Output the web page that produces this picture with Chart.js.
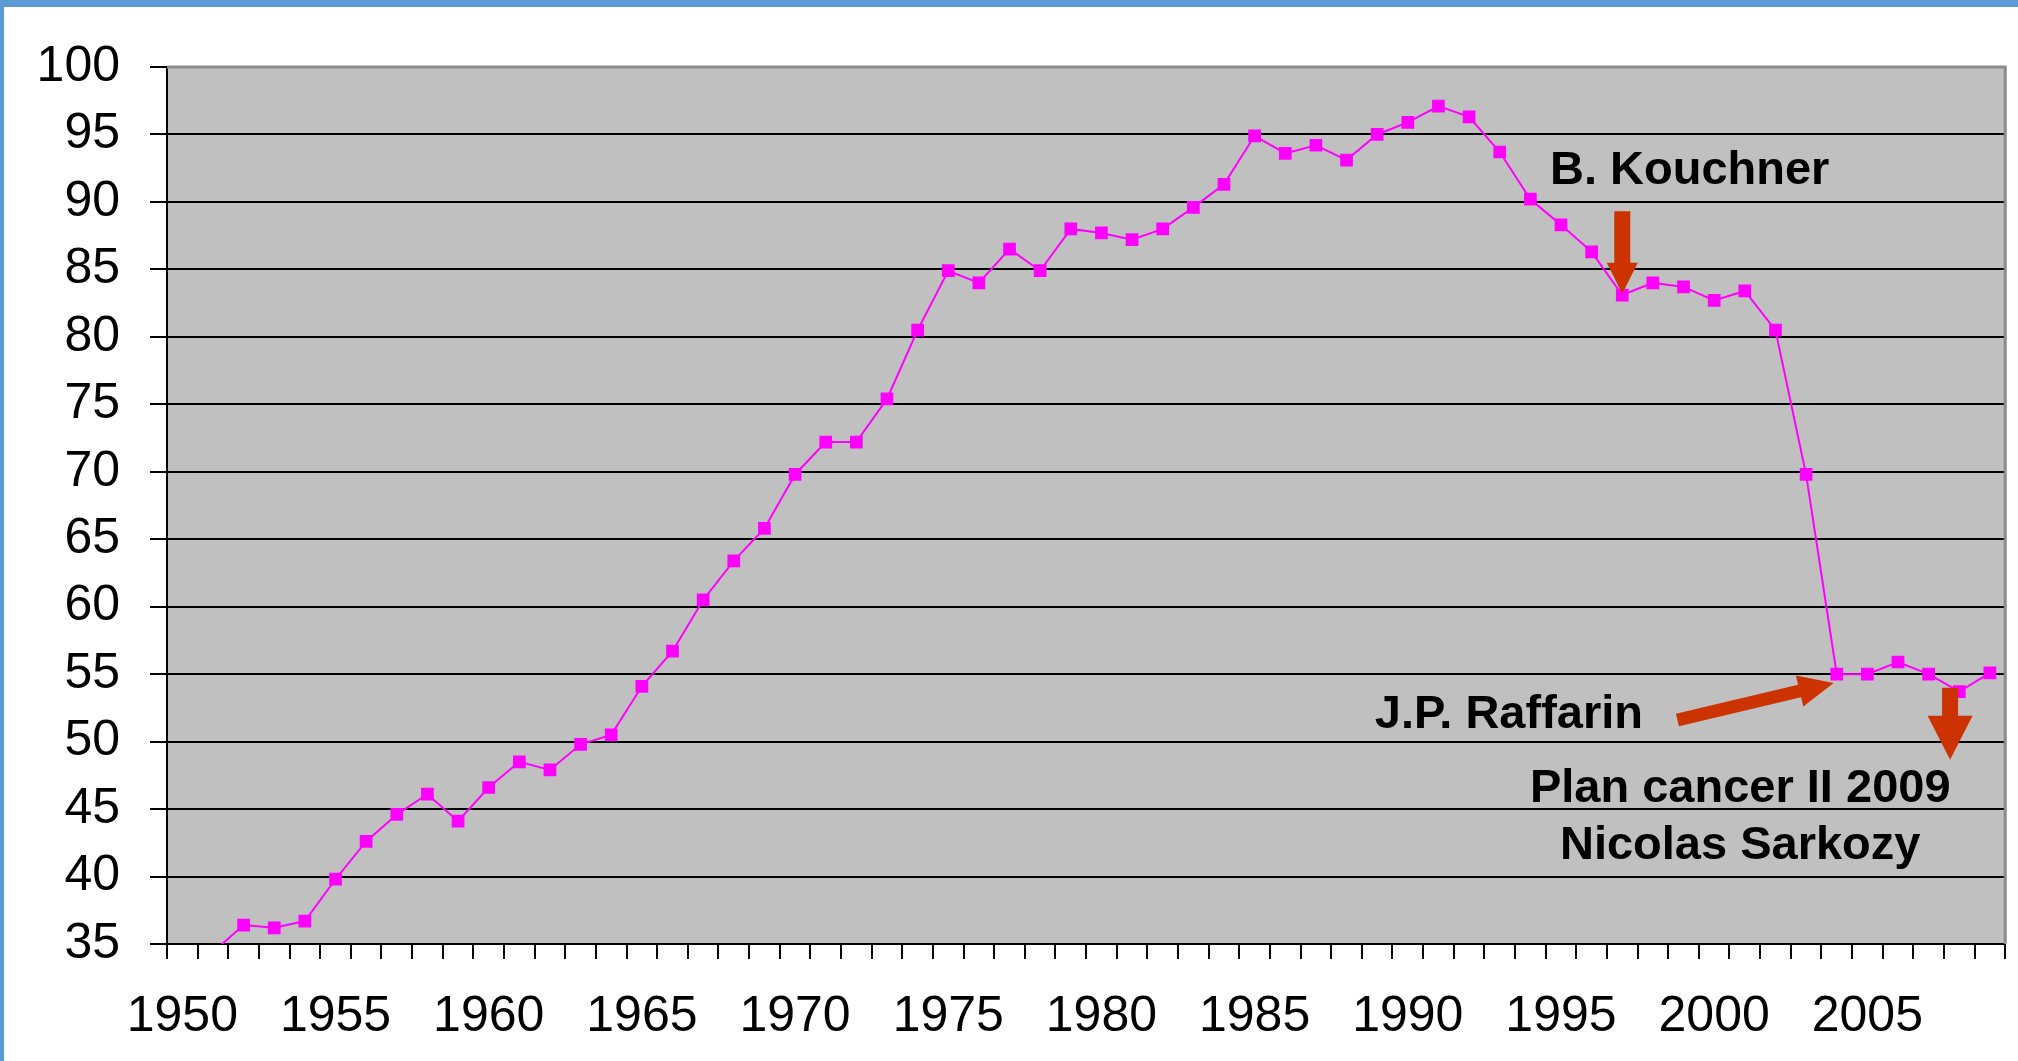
<!DOCTYPE html>
<html>
<head>
<meta charset="utf-8">
<script src="https://cdn.jsdelivr.net/npm/chart.js@4.4.0/dist/chart.umd.min.js"></script>
<style>
  html, body { margin: 0; padding: 0; background: #fff; }
  #frame {
    position: absolute; left: 0; top: 0;
    width: 2018px; height: 1061px;
    box-sizing: border-box;
    border-top: 7px solid #5b9bd5;
    border-left: 4px solid #5b9bd5;
    background: #fff;
  }
  canvas { display: block; }
</style>
</head>
<body>
<div id="frame"><canvas id="chart" width="2014" height="1054"></canvas></div>
<script>
// years on the category axis
const years = [];
for (let y = 1950; y <= 2009; y++) years.push(String(y));

// labels actually printed under the axis
const tickYears = ['1950', '1955', '1960', '1965', '1970', '1975', '1980', '1985', '1990', '1995', '2000', '2005'];

// values (1950 has no point, 1951 sits just under the axis)
const values = [
  null, 34.4, 36.4, 36.2, 36.7, 39.8, 42.6, 44.6, 46.1, 44.1,
  46.6, 48.5, 47.9, 49.8, 50.5, 54.1, 56.7, 60.5, 63.4, 65.8,
  69.8, 72.2, 72.2, 75.4, 80.5, 84.9, 84.0, 86.5, 84.9, 88.0,
  87.7, 87.2, 88.0, 89.6, 91.3, 94.9, 93.6, 94.2, 93.1, 95.0,
  95.9, 97.1, 96.3, 93.7, 90.2, 88.3, 86.3, 83.1, 84.0, 83.7,
  82.7, 83.4, 80.5, 69.8, 55.0, 55.0, 55.9, 55.0, 53.7, 55.1
];

// annotation texts: [text, year, value at baseline]
const notes = [
  ['B. Kouchner', 1999.2, 91.3],
  ['J.P. Raffarin', 1993.3, 51.0],
  ['Plan cancer II 2009', 2000.85, 45.5],
  ['Nicolas Sarkozy', 2000.85, 41.3]
];

// arrows: [fromYear, fromValue, toYear, toValue, shaft, headWidth, headLength]
const arrows = [
  [1997, 89.3, 1997, 83.2, 16, 31, 31],
  [1998.8, 51.6, 2003.9, 54.35, 13, 32, 35],
  [2007.7, 54.0, 2007.7, 48.65, 16, 45, 44]
];

const FONT = "'Liberation Sans', Arial, sans-serif";

function drawArrow(ctx, x1, y1, x2, y2, w, hw, hl) {
  const dx = x2 - x1, dy = y2 - y1;
  const len = Math.sqrt(dx * dx + dy * dy);
  const ux = dx / len, uy = dy / len;
  const nx = -uy, ny = ux;
  const bx = x2 - ux * hl, by = y2 - uy * hl;
  ctx.beginPath();
  ctx.moveTo(x1 + nx * w / 2, y1 + ny * w / 2);
  ctx.lineTo(bx + nx * w / 2, by + ny * w / 2);
  ctx.lineTo(bx + nx * hw / 2, by + ny * hw / 2);
  ctx.lineTo(x2, y2);
  ctx.lineTo(bx - nx * hw / 2, by - ny * hw / 2);
  ctx.lineTo(bx - nx * w / 2, by - ny * w / 2);
  ctx.lineTo(x1 - nx * w / 2, y1 - ny * w / 2);
  ctx.closePath();
  ctx.fill();
}

const plotArea = {
  id: 'plotArea',
  beforeDraw(chart) {
    const { ctx, chartArea: a } = chart;
    ctx.save();
    ctx.fillStyle = '#c0c0c0';
    ctx.fillRect(a.left, a.top, a.right - a.left, a.bottom - a.top);
    ctx.restore();
  },
  afterDraw(chart) {
    const { ctx, chartArea: a, scales } = chart;
    ctx.save();
    // grey frame on top and right
    ctx.strokeStyle = '#8a8a8a';
    ctx.lineWidth = 3;
    ctx.beginPath();
    ctx.moveTo(a.left, a.top);
    ctx.lineTo(a.right, a.top);
    ctx.lineTo(a.right, a.bottom);
    ctx.stroke();

    const xp = yr => scales.x.getPixelForValue(yr - 1950);
    const yp = v => scales.y.getPixelForValue(v);

    ctx.fillStyle = '#cc3300';
    arrows.forEach(r => {
      drawArrow(ctx, xp(r[0]), yp(r[1]), xp(r[2]), yp(r[3]), r[4], r[5], r[6]);
    });

    ctx.fillStyle = '#000';
    ctx.font = 'bold 47px ' + FONT;
    ctx.textAlign = 'center';
    ctx.textBaseline = 'alphabetic';
    notes.forEach(n => ctx.fillText(n[0], xp(n[1]), yp(n[2])));
    ctx.restore();
  }
};

new Chart(document.getElementById('chart'), {
  type: 'line',
  data: {
    labels: years,
    datasets: [{
      data: values,
      borderColor: '#ff00ff',
      backgroundColor: '#ff00ff',
      borderWidth: 2,
      tension: 0,
      pointStyle: 'rect',
      pointRadius: 9,
      pointBorderWidth: 0,
      pointBackgroundColor: '#ff00ff',
      spanGaps: false
    }]
  },
  options: {
    responsive: false,
    animation: false,
    events: [],
    layout: { padding: { top: 59, right: 11, left: 0, bottom: 0 } },
    plugins: { legend: { display: false }, tooltip: { enabled: false } },
    scales: {
      x: {
        type: 'category',
        offset: true,
        afterFit: s => { s.height = 117; },
        grid: {
          offset: true,
          drawOnChartArea: false,
          drawTicks: true,
          tickLength: 15,
          color: '#000',
          lineWidth: 2
        },
        border: { display: true, color: '#000', width: 2 },
        ticks: {
          autoSkip: false,
          maxRotation: 0,
          padding: 28,
          color: '#000',
          font: { family: FONT, size: 50 },
          callback: function (v) {
            const lab = this.getLabelForValue(v);
            return tickYears.includes(lab) ? lab : '';
          }
        }
      },
      y: {
        min: 35,
        max: 100,
        afterFit: s => { s.width = 163; },
        grid: {
          color: c => (c.tick && c.tick.value === 100) ? 'rgba(0,0,0,0)' : '#000',
          tickColor: '#000',
          lineWidth: 2,
          tickLength: 17
        },
        border: { display: true, color: '#000', width: 2 },
        ticks: {
          stepSize: 5,
          padding: 30,
          color: '#000',
          font: { family: FONT, size: 50 }
        }
      }
    }
  },
  plugins: [plotArea]
});
</script>
</body>
</html>
